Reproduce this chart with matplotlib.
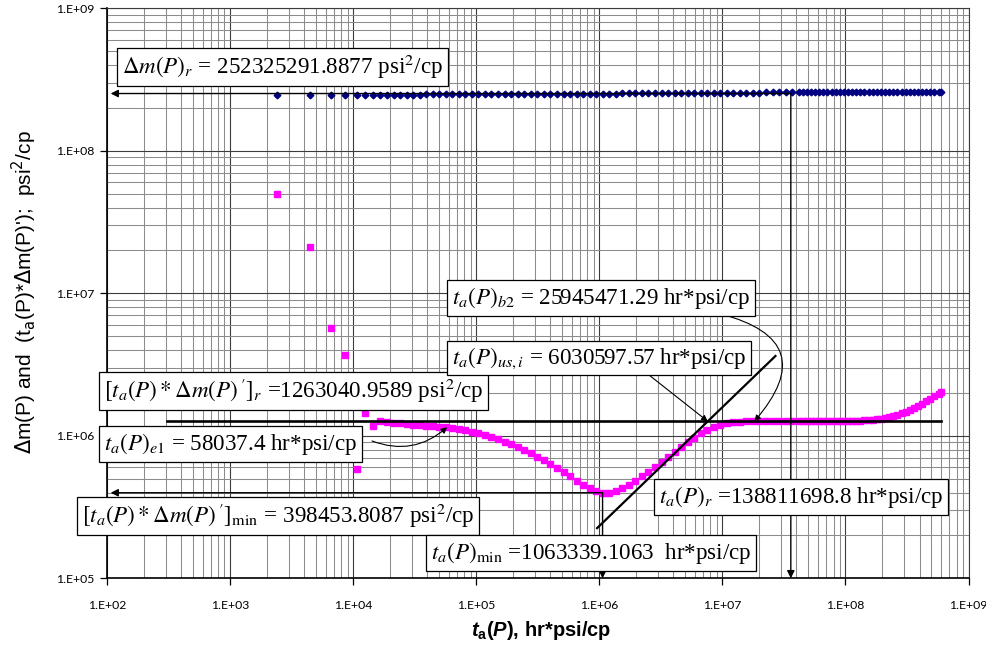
import numpy as np
import matplotlib
matplotlib.use("Agg")
import matplotlib.pyplot as plt
from matplotlib.ticker import FixedLocator, LogLocator, FuncFormatter, NullFormatter

# ---------------------------------------------------------------- data
# pseudo-time t_a(P), hr*psi/cp
t_a = [2410, 4470, 6620, 8610, 10800, 12500, 14600, 16600,
       18800, 21300, 24100, 27200, 30700, 34700, 39200, 44300, 50100, 56600,
       64000, 72300, 81700, 92300, 104000, 118000, 133000, 151000, 170000, 192000,
       217000, 246000, 278000, 314000, 355000, 401000, 453000, 512000, 578000, 654000,
       739000, 835000, 943000, 1066000, 1205000, 1361000, 1538000, 1738000, 1964000, 2220000,
       2508000, 2834000, 3203000, 3619000, 4090000, 4622000, 5222000, 5901000, 6669000, 7536000,
       8515000, 9622000, 10870000, 12290000, 13880000, 15690000, 17730000, 20030000, 22640000, 25580000,
       28900000, 32700000, 36900000, 41700000,
       45000000, 48600000, 52500000, 56700000, 61200000, 66100000, 71400000, 77100000, 83300000, 90000000,
       97200000, 105000000, 113400000, 122400000, 132200000, 142800000, 154200000, 166600000, 179900000, 194300000,
       209800000, 226600000, 244800000, 264300000, 285500000, 308300000, 333000000, 359600000, 388400000, 419500000,
       453000000, 489300000, 528400000, 570700000, 600000000]

# pseudo-pressure difference dm(P), psi^2/cp
delta_m = [2.47e8, 2.47e8, 2.47e8, 2.47e8, 2.47e8, 2.48e8, 2.48e8, 2.48e8,
           2.48e8, 2.48e8, 2.48e8, 2.48e8, 2.48e8, 2.48e8, 2.49e8, 2.49e8, 2.49e8, 2.49e8,
           2.49e8, 2.49e8, 2.49e8, 2.49e8, 2.50e8, 2.50e8, 2.50e8, 2.50e8, 2.50e8, 2.50e8,
           2.50e8, 2.50e8, 2.51e8, 2.51e8, 2.51e8, 2.51e8, 2.51e8, 2.51e8, 2.51e8, 2.52e8,
           2.52e8, 2.52e8, 2.52e8, 2.52e8, 2.52e8, 2.52e8, 2.53e8, 2.53e8, 2.53e8, 2.53e8,
           2.53e8, 2.53e8, 2.54e8, 2.54e8, 2.54e8, 2.54e8, 2.54e8, 2.55e8, 2.55e8, 2.55e8,
           2.55e8, 2.55e8, 2.56e8, 2.56e8, 2.56e8, 2.56e8, 2.56e8, 2.56e8, 2.57e8, 2.57e8,
           2.57e8, 2.57e8, 2.57e8, 2.57e8,
           2.57e8, 2.57e8, 2.57e8, 2.58e8, 2.58e8, 2.58e8, 2.58e8, 2.58e8, 2.58e8, 2.58e8,
           2.58e8, 2.58e8, 2.58e8, 2.58e8, 2.59e8, 2.59e8, 2.59e8, 2.59e8, 2.59e8, 2.59e8,
           2.59e8, 2.59e8, 2.59e8, 2.59e8, 2.59e8, 2.60e8, 2.60e8, 2.60e8, 2.60e8, 2.60e8,
           2.60e8, 2.60e8, 2.60e8, 2.60e8, 2.60e8]

# derivative group t_a(P)*dm(P)', psi^2/cp
deriv = [4.98e7, 2.11e7, 5.71e6, 3.70e6, 5.86e5, 1.45e6, 1.17e6, 1.27e6,
         1.24e6, 1.23e6, 1.22e6, 1.21e6, 1.20e6, 1.19e6, 1.18e6, 1.17e6, 1.16e6, 1.15e6,
         1.13e6, 1.11e6, 1.09e6, 1.065e6, 1.04e6, 1.01e6, 9.8e5, 9.45e5, 9.1e5, 8.75e5,
         8.35e5, 7.95e5, 7.55e5, 7.15e5, 6.75e5, 6.35e5, 5.95e5, 5.55e5, 5.2e5, 4.85e5,
         4.55e5, 4.3e5, 4.1e5, 3.98e5, 4.0e5, 4.1e5, 4.3e5, 4.55e5, 4.85e5, 5.2e5,
         5.6e5, 6.05e5, 6.55e5, 7.1e5, 7.7e5, 8.35e5, 9.0e5, 9.7e5, 1.04e6, 1.10e6,
         1.15e6, 1.19e6, 1.22e6, 1.24e6, 1.255e6, 1.265e6, 1.27e6, 1.275e6, 1.28e6, 1.28e6,
         1.28e6, 1.28e6, 1.28e6, 1.28e6,
         1.28e6, 1.28e6, 1.28e6, 1.28e6, 1.28e6, 1.28e6, 1.28e6, 1.28e6, 1.28e6, 1.28e6,
         1.28e6, 1.28e6, 1.28e6, 1.28e6, 1.28e6, 1.285e6, 1.29e6, 1.30e6, 1.31e6, 1.32e6,
         1.34e6, 1.36e6, 1.38e6, 1.41e6, 1.44e6, 1.48e6, 1.52e6, 1.57e6, 1.62e6, 1.68e6,
         1.75e6, 1.82e6, 1.90e6, 1.98e6, 2.03e6]

# axis decades
x_decades = [1e2, 1e3, 1e4, 1e5, 1e6, 1e7, 1e8, 1e9]
y_decades = [1e5, 1e6, 1e7, 1e8, 1e9]

# characteristic values
dm_r = 252325291.8877          # Δm(P)_r
deriv_r = 1263040.9589         # [t_a(P)*Δm(P)']_r
deriv_min = 398453.8087        # [t_a(P)*Δm(P)']_min
t_min = 1063339.1063           # t_a(P)_min
t_e1 = 58037.4                 # t_a(P)_e1
t_drop = 3.6e7                 # vertical marker from the Δm(P) plateau
t_b2_tip = 1.82e7              # where the b2 callout meets the plateau
deriv_e1 = 1.15e6              # derivative value at t_e1
tangent_t = [9.6e5, 2.7e7]     # straight line through the rising derivative
tangent_y = [2.25e5, 3.63e6]
plateau_t = [3.08e2, 6.0e8]    # extent of the [t_a(P)*Δm(P)']_r line

# ---------------------------------------------------------------- figure
W, H = 987, 650
fig = plt.figure(figsize=(W / 100, H / 100), dpi=100)
L, R, T, B = 107, 968.5, 8.3, 578.3
ax = fig.add_axes([L / W, 1 - B / H, (R - L) / W, (B - T) / H])
ax.set_xscale("log")
ax.set_yscale("log")
ax.set_xlim(x_decades[0], x_decades[-1])
ax.set_ylim(y_decades[0], y_decades[-1])

ax.xaxis.set_major_locator(FixedLocator(x_decades))
ax.yaxis.set_major_locator(FixedLocator(y_decades))
ax.xaxis.set_minor_locator(LogLocator(base=10, subs=np.arange(2, 10), numticks=200))
ax.yaxis.set_minor_locator(LogLocator(base=10, subs=np.arange(2, 10), numticks=200))
fmt = FuncFormatter(lambda v, p: "1.E+%02d" % int(round(np.log10(v))))
ax.xaxis.set_major_formatter(fmt)
ax.yaxis.set_major_formatter(fmt)
ax.xaxis.set_minor_formatter(NullFormatter())
ax.yaxis.set_minor_formatter(NullFormatter())

ax.grid(True, which="minor", color="#8c8c8c", lw=0.75)
ax.grid(True, which="major", color="#3c3c3c", lw=0.8)
ax.set_axisbelow(True)
ax.tick_params(which="major", direction="out", length=5, width=0.9, color="black",
               labelsize=8.8, pad=10.5)
ax.tick_params(axis="y", which="major", pad=4)
ax.tick_params(which="minor", length=0)
for lab in ax.get_xticklabels() + ax.get_yticklabels():
    lab.set_family("Lato")
for s in ("left", "bottom"):
    ax.spines[s].set_color("black")
    ax.spines[s].set_linewidth(1.2)
for s in ("top", "right"):
    ax.spines[s].set_color("#3c3c3c")
    ax.spines[s].set_linewidth(0.8)

# data series
ax.plot(t_a, deriv, ls="none", marker="s", ms=4.4, mfc="#ff00ff", mec="#ff00ff", zorder=3)
ax.plot(t_a, delta_m, ls="none", marker="D", ms=3.4, mfc="#000080", mec="#000080", zorder=3)

# reference lines
ax.plot(plateau_t, [deriv_r, deriv_r], color="black", lw=1.9, zorder=4)
ax.plot(tangent_t, tangent_y, color="black", lw=1.6, zorder=4)

arrow_kw = dict(arrowstyle="-|>", color="black", lw=1.0, mutation_scale=11,
                shrinkA=0, shrinkB=0)
ax.annotate("", xy=(t_drop, y_decades[0]), xytext=(t_drop, dm_r), arrowprops=arrow_kw, zorder=5)
ax.annotate("", xy=(1.07e2, dm_r), xytext=(t_drop, dm_r), arrowprops=arrow_kw, zorder=5)
ax.annotate("", xy=(t_min, y_decades[0]), xytext=(t_min, deriv_min), arrowprops=arrow_kw, zorder=5)
ax.annotate("", xy=(1.07e2, deriv_min), xytext=(t_min, deriv_min), arrowprops=arrow_kw, zorder=5)

# intersection of the tangent with the plateau line
lt = np.log10(tangent_t)
ly = np.log10(tangent_y)
slope = (ly[1] - ly[0]) / (lt[1] - lt[0])
t_us = 10 ** (lt[0] + (np.log10(deriv_r) - ly[0]) / slope)


def fig_xy(px, py):
    return (px / W, 1 - py / H)


box = dict(boxstyle="square,pad=0.2", fc="white", ec="black", lw=0.9)
txt_kw = dict(fontsize=16.6, family="Liberation Serif", math_fontfamily="stix",
              ha="left", va="center", bbox=box, zorder=10)

callouts = [
    (r"$\Delta m(P)_r$ = 252325291.8877 psi$^2$/cp", 122, 67),
    (r"$[t_a(P)*\Delta m(P)\,']_r$ =1263040.9589 psi$^2$/cp", 104, 391),
    (r"$t_a(P)_{e1}$ = 58037.4 hr*psi/cp", 104, 444),
    (r"$[t_a(P)*\Delta m(P)\,']_{\mathrm{min}}$ = 398453.8087 psi$^2$/cp", 82, 516),
    (r"$t_a(P)_{\mathrm{min}}$ =1063339.1063  hr*psi/cp", 431, 553),
    (r"$t_a(P)_r$ =138811698.8 hr*psi/cp", 659, 497),
    (r"$t_a(P)_{us,i}$ = 6030597.57 hr*psi/cp", 452, 358),
    (r"$t_a(P)_{b2}$ = 25945471.29 hr*psi/cp", 452, 298),
]
for s, px, py in callouts:
    fig.text(*fig_xy(px, py), s, transform=fig.transFigure, **txt_kw)

thin = dict(arrowstyle="-|>", color="black", lw=0.8, mutation_scale=9, shrinkA=0, shrinkB=0)
ax.annotate("", xy=(t_e1, deriv_e1), xytext=fig_xy(372, 441), textcoords="figure fraction",
            arrowprops=dict(thin, connectionstyle="arc3,rad=0.3"), zorder=11)
ax.annotate("", xy=(t_us, deriv_r), xytext=fig_xy(649, 375), textcoords="figure fraction",
            arrowprops=thin, zorder=11)
ax.annotate("", xy=(t_b2_tip, deriv_r), xytext=fig_xy(721, 314), textcoords="figure fraction",
            arrowprops=dict(thin, connectionstyle="arc3,rad=-0.8"), zorder=11)

# axis titles
fig.text(*fig_xy(541, 630), r"$t_{\mathrm{a}}(P)$, hr*psi/cp", family="Liberation Sans",
         fontweight="bold", fontsize=14.5, ha="center", va="center", math_fontfamily="custom")
fig.text(*fig_xy(24, 292), r"$\Delta$m(P) and  (t$_{\mathrm{a}}$(P)*$\Delta$m(P)');  psi$^{2}$/cp",
         family="Liberation Sans", fontsize=15, rotation=90, ha="center", va="center",
         math_fontfamily="dejavusans")

plt.rcParams["mathtext.fontset"] = "custom"
plt.rcParams["mathtext.rm"] = "Liberation Sans:bold"
plt.rcParams["mathtext.it"] = "Liberation Sans:italic:bold"
plt.rcParams["mathtext.bf"] = "Liberation Sans:bold"

fig.savefig("out.png", dpi=100)
